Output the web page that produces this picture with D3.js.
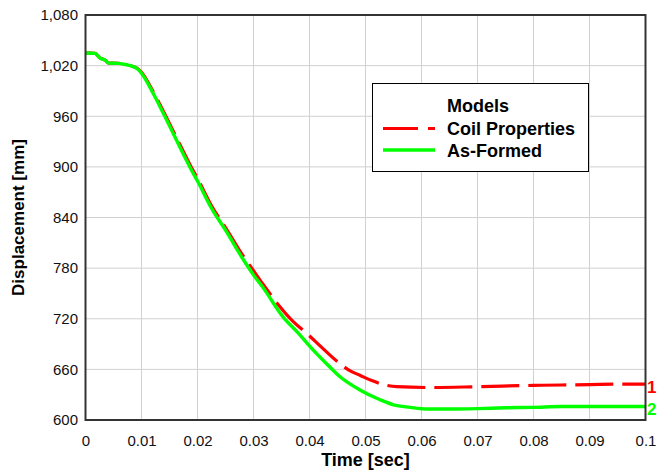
<!DOCTYPE html>
<html lang="en">
<head>
<meta charset="utf-8">
<title>Displacement vs Time</title>
<script src="https://d3js.org/d3.v7.min.js"></script>
<style>
  body { margin: 0; background: white; }
  text { font-family: Arial, "Liberation Sans", sans-serif; }
</style>
</head>
<body>
<script>
// data
var xTicks = [0, 0.01, 0.02, 0.03, 0.04, 0.05, 0.06, 0.07, 0.08, 0.09, 0.1];
var yTicks = [600, 660, 720, 780, 840, 900, 960, 1020, 1080];

// model 1 - coil properties
var coilTime = [0, 0.0017, 0.0026, 0.0035, 0.0041, 0.0059, 0.0074, 0.0085, 0.0093, 0.0100,
  0.0121, 0.0139, 0.0160, 0.0187, 0.0201, 0.0225, 0.0252, 0.0280, 0.0300, 0.0318,
  0.0345, 0.0371, 0.0395, 0.0425, 0.0454, 0.0472, 0.0490, 0.0510, 0.0535, 0.0556,
  0.0615, 0.0700, 0.0800, 0.0850, 0.0900, 0.0950, 0.1000];
var coilDisp = [1035, 1034.5, 1029, 1026.5, 1023, 1022.7, 1021, 1019, 1016.5, 1012,
  989, 966, 938, 902, 885, 854, 826, 796, 777, 760,
  736, 716.5, 702.7, 684, 667, 658.5, 653, 647, 641.5, 639.5,
  638.5, 639.5, 641, 641.5, 642, 642.5, 642.5];

// model 2 - as-formed
var formedTime = [0, 0.0017, 0.0026, 0.0035, 0.0041, 0.0059, 0.0074, 0.0085, 0.0093, 0.0100,
  0.0121, 0.0139, 0.0160, 0.0187, 0.0201, 0.0225, 0.0252, 0.0280, 0.0300, 0.0318,
  0.0353, 0.0380, 0.0401, 0.0430, 0.0454, 0.0490, 0.0526, 0.0550, 0.0580, 0.0609,
  0.0650, 0.0700, 0.0750, 0.0800, 0.0850, 0.0900, 0.0950, 0.1000];
var formedDisp = [1035, 1034.5, 1029, 1026.5, 1023, 1022.7, 1021, 1019, 1016, 1011,
  987, 963.5, 935, 899, 882, 851, 823, 792, 772, 756,
  722, 703, 687, 667, 651.5, 635.6, 624, 618, 615, 613,
  613, 613.5, 614.5, 615, 616, 616, 616, 616];

var svg = d3.select("body").append("svg")
  .attr("width", 657)
  .attr("height", 471);

var x = d3.scaleLinear().domain([0, 0.1]).range([85.5, 645.5]);
var y = d3.scaleLinear().domain([600, 1080]).range([420, 15]);

// grid
svg.append("g").selectAll("line").data(xTicks).enter().append("line")
  .attr("x1", d => x(d)).attr("x2", d => x(d))
  .attr("y1", y(1080)).attr("y2", y(600))
  .attr("stroke", "#d0d0d0").attr("stroke-width", 1);
svg.append("g").selectAll("line").data(yTicks).enter().append("line")
  .attr("x1", x(0)).attr("x2", x(0.1))
  .attr("y1", d => y(d)).attr("y2", d => y(d))
  .attr("stroke", "#d0d0d0").attr("stroke-width", 1);

// axes (labels only, frame drawn below)
var xAxis = svg.append("g")
  .attr("transform", "translate(0," + y(600) + ")")
  .call(d3.axisBottom(x).tickValues(xTicks).tickSize(0).tickPadding(15).tickFormat(d => String(d)));
var yAxis = svg.append("g")
  .attr("transform", "translate(" + x(0) + ",0)")
  .call(d3.axisLeft(y).tickValues(yTicks).tickSize(0).tickPadding(7.5).tickFormat(d3.format(",")));
[xAxis, yAxis].forEach(function(a) {
  a.select(".domain").remove();
  a.selectAll("text").attr("font-size", 15).attr("fill", "#111")
    .attr("font-family", "Arial, 'Liberation Sans', sans-serif");
});

// lines
var line = d3.line().x(d => x(d[0])).y(d => y(d[1])).curve(d3.curveMonotoneX);
svg.append("path")
  .datum(d3.zip(coilTime, coilDisp))
  .attr("d", line)
  .attr("fill", "none")
  .attr("stroke", "#ff0000")
  .attr("stroke-width", 3.2)
  .attr("stroke-dasharray", "38,9");
svg.append("path")
  .datum(d3.zip(formedTime, formedDisp))
  .attr("d", line)
  .attr("fill", "none")
  .attr("stroke", "#00ff00")
  .attr("stroke-width", 3.4);

// frame
svg.append("rect")
  .attr("x", x(0)).attr("y", y(1080))
  .attr("width", x(0.1) - x(0)).attr("height", y(600) - y(1080))
  .attr("fill", "none").attr("stroke", "#333").attr("stroke-width", 2);

// end labels
svg.append("text").attr("x", 647).attr("y", 393)
  .attr("font-size", 17).attr("font-weight", "bold").attr("fill", "#ff0000").text("1");
svg.append("text").attr("x", 647).attr("y", 415)
  .attr("font-size", 17).attr("font-weight", "bold").attr("fill", "#00ff00").text("2");

// axis titles
svg.append("text")
  .attr("x", x(0.05)).attr("y", 466)
  .attr("text-anchor", "middle")
  .attr("font-size", 18).attr("font-weight", "bold")
  .text("Time [sec]");
svg.append("text")
  .attr("transform", "translate(24," + y(840) + ") rotate(-90)")
  .attr("text-anchor", "middle")
  .attr("font-size", 17).attr("font-weight", "bold")
  .text("Displacement [mm]");

// legend
var legend = svg.append("g");
legend.append("rect")
  .attr("x", 372.5).attr("y", 83.5).attr("width", 216).attr("height", 88)
  .attr("fill", "white").attr("stroke", "#000").attr("stroke-width", 1);
legend.append("text").attr("x", 447).attr("y", 112)
  .attr("font-size", 18).attr("font-weight", "bold").text("Models");
legend.append("line")
  .attr("x1", 383).attr("x2", 435).attr("y1", 128.5).attr("y2", 128.5)
  .attr("stroke", "#ff0000").attr("stroke-width", 3.2).attr("stroke-dasharray", "35,10");
legend.append("text").attr("x", 447).attr("y", 135)
  .attr("font-size", 18).attr("font-weight", "bold").text("Coil Properties");
legend.append("line")
  .attr("x1", 383).attr("x2", 435).attr("y1", 150).attr("y2", 150)
  .attr("stroke", "#00ff00").attr("stroke-width", 3.4);
legend.append("text").attr("x", 447).attr("y", 157)
  .attr("font-size", 18).attr("font-weight", "bold").text("As-Formed");
</script>
</body>
</html>
